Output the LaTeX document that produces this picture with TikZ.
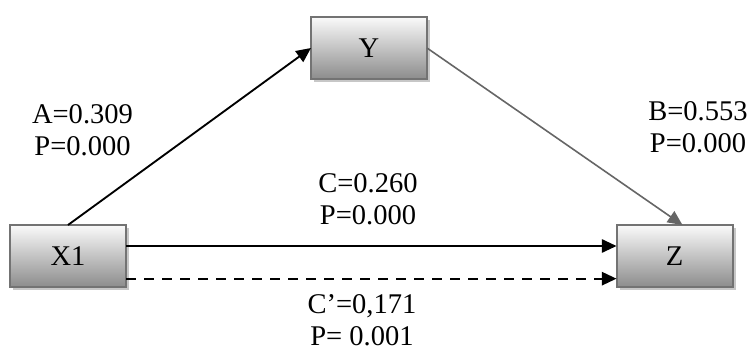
\documentclass[tikz,border=0pt]{standalone}
\usepackage{fontspec}
\setmainfont{Liberation Serif}
\usetikzlibrary{arrows.meta,shadows}
\tikzset{every picture/.style={line width=0.75pt}}
\newcommand{\medfont}{\fontsize{21.4}{24}\selectfont}
\tikzset{
  varbox/.style={draw=black!55, line width=1.5pt, top color=black!2, bottom color=black!45,
    minimum width=87pt, minimum height=46.5pt, inner sep=0pt, outer sep=0pt,
    drop shadow={shadow xshift=2.5pt, shadow yshift=-2.5pt, fill=black!22, opacity=1},
    font=\medfont},
  coef/.style={align=center, inner sep=0.75pt, font=\medfont},
  patharrow/.style={-{Triangle[length=11pt,width=10pt]}, line width=1.4pt},
}

\begin{document}
\begin{tikzpicture}[x=0.75pt,y=0.75pt,yscale=-1,xscale=1]
\useasboundingbox (0,0) rectangle (753,350);

%Shape: Rectangle
\node [varbox] (x1) at (68,256) {X1};
%Shape: Rectangle
\node [varbox] (y) at (369,48) {Y};
%Shape: Rectangle
\node [varbox] (z) at (674.5,256) {Z};

%Straight Lines
\draw [patharrow] (x1.north) -- (y.west);
%Straight Lines
\draw [patharrow, draw=black!60, fill=black!60, line width=1.2pt] (y.east) -- ([xshift=6pt]z.north);
%Straight Lines
\draw [patharrow] ([yshift=-7.5pt]x1.east) -- ([yshift=-7.5pt]z.west);
%Straight Lines
\draw [patharrow, dash pattern=on 7.5pt off 6pt] ([yshift=17pt]x1.east) -- ([yshift=17pt]z.west);

% Text Node
\node [coef] (a) at (82.5,130) {A=0.309\\P=0.000};
% Text Node
\node [coef] (b) at (698,127) {B=0.553\\P=0.000};
% Text Node
\node [coef] (c) at (368,199) {C=0.260\\P=0.000};
% Text Node
\node [coef] (cp) at (362,320) {C’=0,171\\P= 0.001};

\end{tikzpicture}
\end{document}
